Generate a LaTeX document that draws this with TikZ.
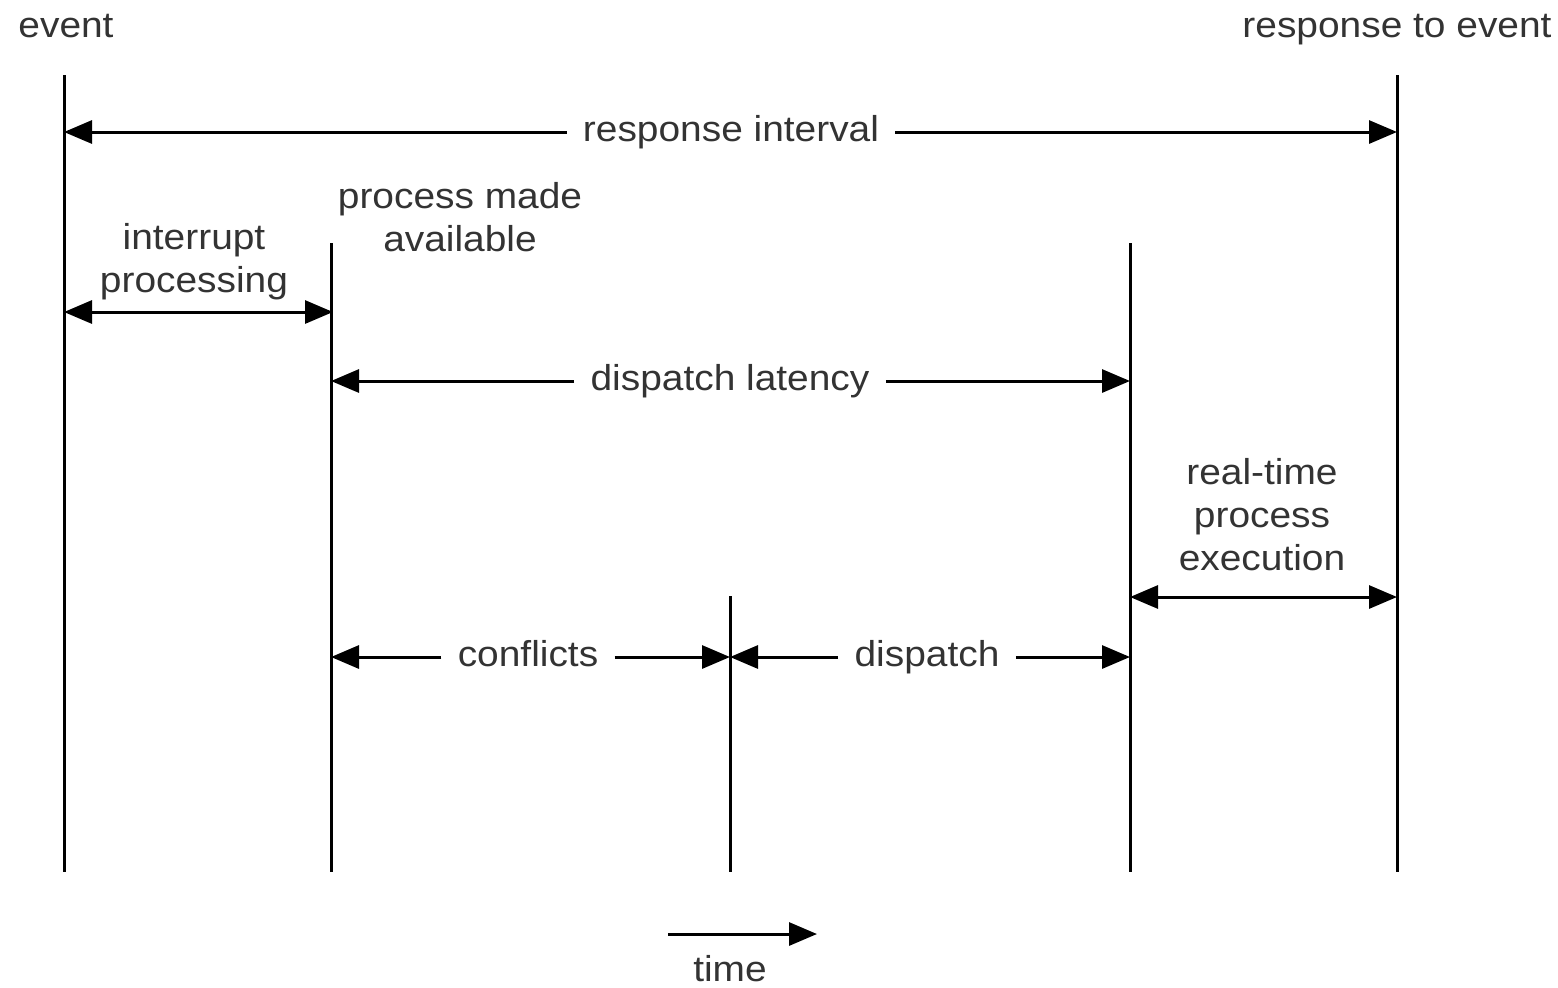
\documentclass[tikz,border=0pt]{standalone}
\usepackage{fontspec}
\setmainfont{Liberation Sans}[FakeStretch=1.08]
\usetikzlibrary{arrows.meta}
\begin{document}
\begin{tikzpicture}[x=0.5pt,y=-0.5pt,
  vline/.style={line width=1.5pt},
  tip/.tip={Triangle[length=14pt,width=11.5pt]},
  arr/.style={line width=1.5pt,-tip},
  darr/.style={line width=1.5pt,tip-tip},
  lbl/.style={font=\fontsize{18pt}{21.5pt}\selectfont, text=black!80, inner xsep=8pt, inner ysep=0pt, text height=13pt, text depth=3.8pt},
  mlbl/.style={font=\fontsize{18pt}{21.5pt}\selectfont, text=black!80, align=center, inner sep=0pt}]
\useasboundingbox (0,0) rectangle (1558,987);

% vertical time lines
\coordinate (t1) at (64,75);   \coordinate (b1) at (64,872);
\coordinate (t2) at (331,243); \coordinate (b2) at (331,872);
\coordinate (t3) at (730,596); \coordinate (b3) at (730,872);
\coordinate (t4) at (1130,243);\coordinate (b4) at (1130,872);
\coordinate (t5) at (1397,75); \coordinate (b5) at (1397,872);
\draw[vline] (t1) -- (b1);
\draw[vline] (t2) -- (b2);
\draw[vline] (t3) -- (b3);
\draw[vline] (t4) -- (b4);
\draw[vline] (t5) -- (b5);

% top labels
\node[lbl] (ev) at (66,28) {event};
\node[lbl] (rte) at (1397,28) {response to event};

% response interval
\coordinate (ri1) at (64,132); \coordinate (ri2) at (1397,132);
\node[lbl] (ri) at (731,132) {response interval};
\draw[arr] (ri.west) -- (ri1);
\draw[arr] (ri.east) -- (ri2);

% interrupt processing
\node[mlbl] (ipl) at (194,262) {interrupt\\processing};
\node[mlbl] (pma) at (460,217) {process made\\available};
\coordinate (ip1) at (64,312); \coordinate (ip2) at (333,312);
\draw[darr] (ip1) -- (ip2);

% dispatch latency
\coordinate (dl1) at (331,381); \coordinate (dl2) at (1130,381);
\node[lbl] (dl) at (730,381) {dispatch latency};
\draw[arr] (dl.west) -- (dl1);
\draw[arr] (dl.east) -- (dl2);

% real-time process execution
\node[mlbl] (rtl) at (1262,515) {real-time\\process\\execution};
\coordinate (rt1) at (1130,597); \coordinate (rt2) at (1397,597);
\draw[darr] (rt1) -- (rt2);

% conflicts and dispatch
\coordinate (c1) at (331,657); \coordinate (c2) at (730,657);
\node[lbl] (cf) at (528,657) {conflicts};
\draw[arr] (cf.west) -- (c1);
\draw[arr] (cf.east) -- (c2);
\coordinate (d1) at (730,657); \coordinate (d2) at (1130,657);
\node[lbl] (dp) at (927,657) {dispatch};
\draw[arr] (dp.west) -- (d1);
\draw[arr] (dp.east) -- (d2);

% time arrow
\coordinate (tm1) at (668,934); \coordinate (tm2) at (817,934);
\draw[arr] (tm1) -- (tm2);
\node[lbl] (tm) at (730,972) {time};
\end{tikzpicture}
\end{document}
